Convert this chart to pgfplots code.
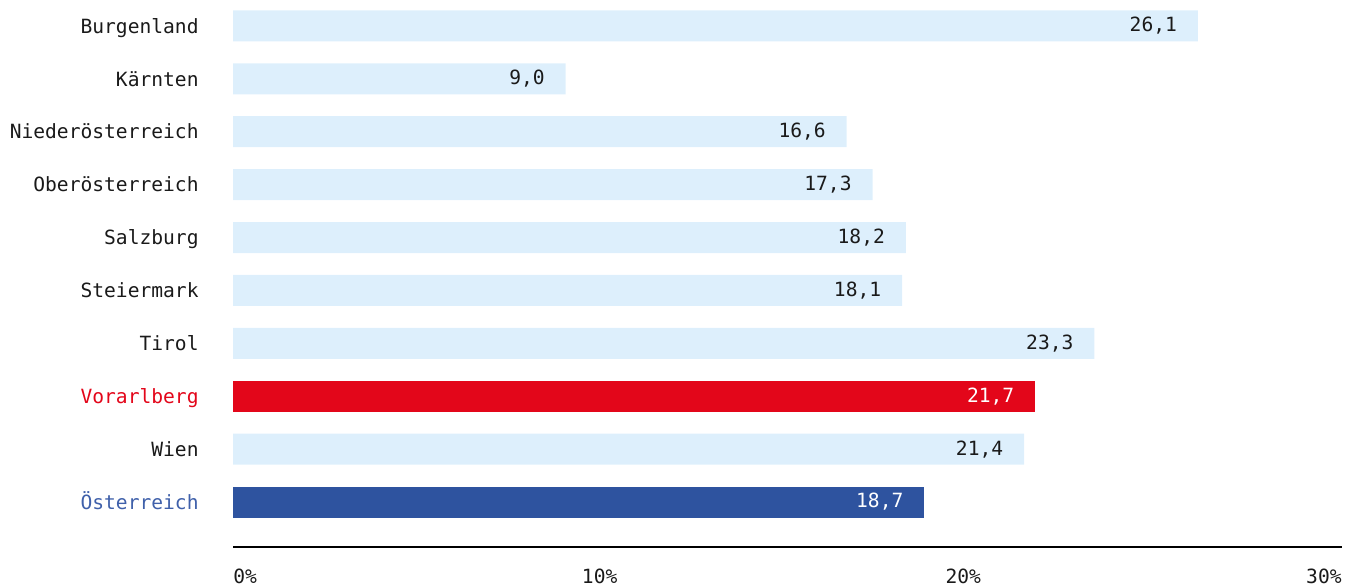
\documentclass[border=0pt]{standalone}
\usepackage{fontspec}
\setmainfont{DejaVu Sans Mono}
\usepackage{xcolor}
\usepackage{pgfplots}
\pgfplotsset{compat=1.18}
\definecolor{lightbar}{HTML}{DDEFFC}
\definecolor{vred}{HTML}{E3061A}
\definecolor{oblue}{HTML}{2E539F}
\definecolor{oblueText}{HTML}{3F60AA}
\definecolor{ink}{HTML}{1A1A1A}
\begin{document}
\fontsize{9.8pt}{12pt}\selectfont
\begin{tikzpicture}
  \path[use as bounding box] (0,0) rectangle (673.5pt,292.5pt);
  \begin{axis}[
    at={(116.5pt,19pt)}, anchor=south west,
    scale only axis,
    width=554.5pt, height=273.5pt,
    xmin=0, xmax=30,
    ymin=-0.49, ymax=9.85,
    y dir=reverse,
    xbar, bar shift=0pt, bar width=15.5pt,
    axis x line*=bottom,
    axis y line*=left,
    x axis line style={-, draw=black, line width=0.6pt},
    y axis line style={draw=none},
    xtick=\empty,
    ytick={0,...,9},
    yticklabels={Burgenland,K\"arnten,Nieder\"osterreich,Ober\"osterreich,Salzburg,Steiermark,Tirol,\textcolor{vred}{Vorarlberg},Wien,\textcolor{oblueText}{\"Osterreich}},
    major tick length=0pt,
    yticklabel style={font=\fontsize{9.8pt}{12pt}\selectfont, text=ink, anchor=base east, inner sep=0pt, xshift=-17pt, yshift=-3.6pt},
    /pgf/number format/assume math mode=true,
    /pgf/number format/.cd, use comma, fixed, fixed zerofill, precision=1,
    /pgfplots/.cd,
    nodes near coords,
    nodes near coords align={anchor=east},
    every node near coord/.append style={font=\fontsize{9.8pt}{12pt}\selectfont, xshift=-7pt},
    clip=false,
  ]
    \addplot[draw=none, fill=lightbar, every node near coord/.append style={text=ink}] coordinates {
      (26.1,0) (9.0,1) (16.6,2) (17.3,3) (18.2,4) (18.1,5) (23.3,6) (21.4,8)
    };
    \addplot[draw=none, fill=vred, every node near coord/.append style={text=white}] coordinates {
      (21.7,7)
    };
    \addplot[draw=none, fill=oblue, every node near coord/.append style={text=white}] coordinates {
      (18.7,9)
    };
    \node[anchor=base west, inner sep=0pt, text=ink] at ([yshift=-18pt]rel axis cs:0,0) {0\%};
    \node[anchor=base, inner sep=0pt, text=ink] at ([yshift=-18pt,xshift=-1.5pt]axis cs:10,9.85) {10\%};
    \node[anchor=base, inner sep=0pt, text=ink] at ([yshift=-18pt,xshift=-4.5pt]axis cs:20,9.85) {20\%};
    \node[anchor=base east, inner sep=0pt, text=ink] at ([yshift=-18pt]rel axis cs:1,0) {30\%};
  \end{axis}
\end{tikzpicture}
\end{document}
